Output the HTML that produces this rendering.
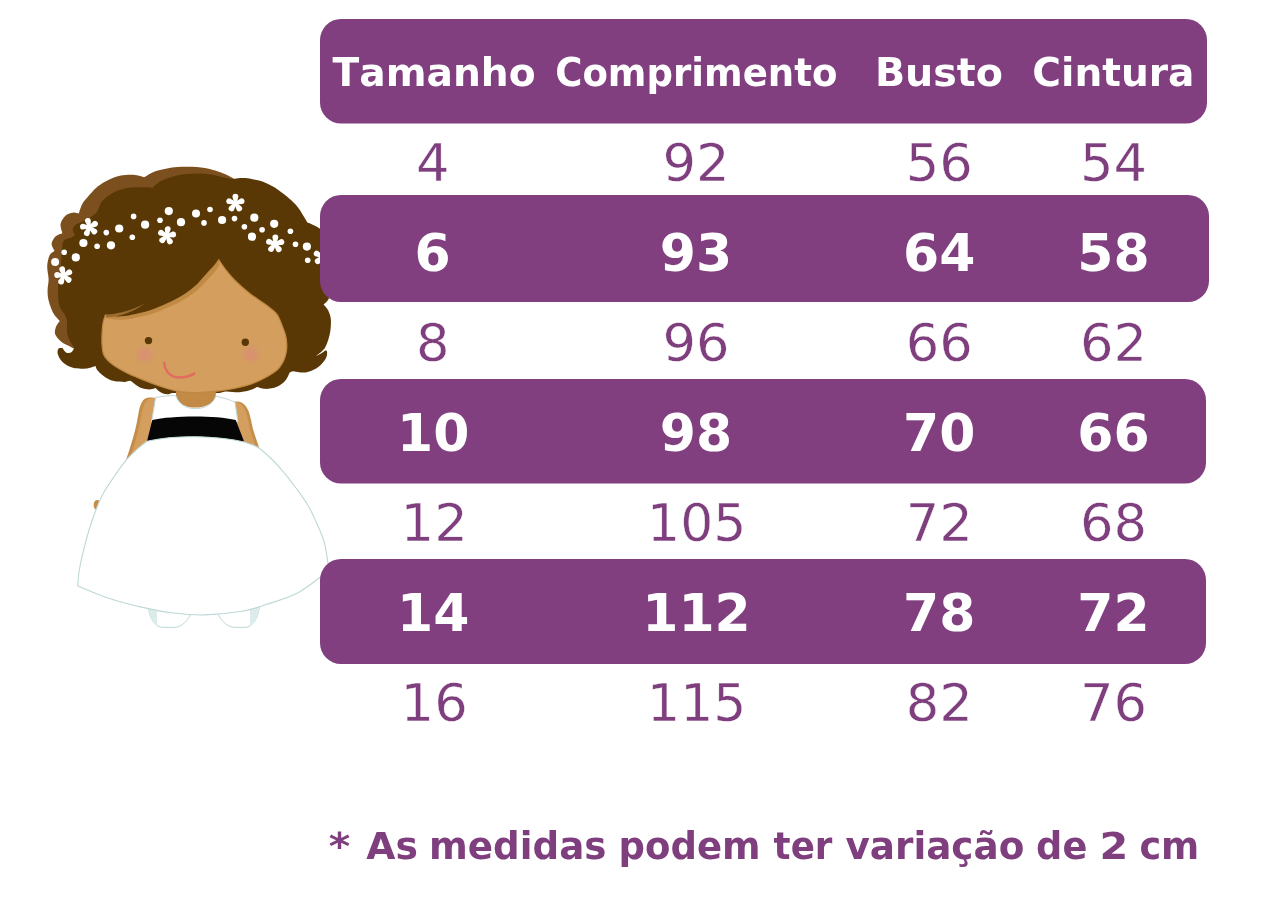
<!DOCTYPE html>
<html lang="pt-BR">
<head>
<meta charset="utf-8">
<title>Tabela de medidas</title>
<style>
html,body{margin:0;padding:0;background:#fff;}
body{width:1285px;height:908px;overflow:hidden;}
svg{display:block;}
text{font-family:"DejaVu Sans","Liberation Sans",sans-serif;font-kerning:none;}
.h{font-weight:bold;fill:#fff;font-size:39.3px;}
.b{font-weight:bold;fill:#fff;font-size:52px;text-anchor:middle;}
.r{fill:#7f3f7e;font-size:51px;text-anchor:middle;stroke:#fff;stroke-width:0.4px;}
.n{fill:#7f3f7e;font-weight:bold;font-size:36.5px;}
</style>
</head>
<body>
<svg width="1285" height="908" viewBox="0 0 1285 908">
<g id="girl">
<defs><radialGradient id="ck"><stop offset="0" stop-color="#df8583" stop-opacity="0.6"/><stop offset="0.55" stop-color="#df8583" stop-opacity="0.36"/><stop offset="1" stop-color="#df8583" stop-opacity="0"/></radialGradient></defs>
<path d="M80 352 C78.3 351.1 73.2 348.2 70.0 346.5 C66.8 344.8 63.5 343.6 61.0 341.5 C58.5 339.4 56.1 336.6 55.2 334.2 C54.4 331.8 55.1 329.2 55.9 327.0 C56.7 324.8 59.1 322.0 59.8 321.0 C58.7 319.7 55.1 316.5 53.2 313.0 C51.3 309.5 49.4 303.8 48.5 300.0 C47.6 296.2 47.6 293.5 47.6 290.0 C47.6 286.5 48.7 283.0 48.6 279.0 C48.5 275.0 47.0 270.0 47.2 266.0 C47.4 262.0 48.5 257.5 49.7 255.0 C50.9 252.5 53.7 251.6 54.5 250.9 C54.0 249.7 51.4 246.0 51.6 243.6 C51.8 241.2 53.9 238.0 55.7 236.3 C57.5 234.6 61.3 233.8 62.4 233.3 C62.1 231.8 60.1 226.9 60.6 224.0 C61.1 221.1 63.4 217.6 65.4 215.7 C67.4 213.8 70.5 213.0 72.7 212.7 C74.9 212.3 77.8 213.4 78.8 213.6 C79.4 211.9 80.9 206.5 82.5 203.6 C84.1 200.7 86.2 198.6 88.5 196.0 C90.8 193.4 93.4 190.3 96.0 188.0 C98.6 185.7 101.2 184.0 104.0 182.3 C106.8 180.6 109.8 179.1 112.6 178.0 C115.4 176.9 118.3 176.1 121.0 175.6 C123.7 175.1 126.3 174.9 129.0 174.8 C131.7 174.8 134.5 174.9 137.0 175.3 C139.5 175.7 142.8 177.0 144.0 177.3 C145.1 176.7 148.2 174.5 150.5 173.4 C152.8 172.3 155.1 171.4 157.8 170.6 C160.6 169.8 163.8 169.0 167.0 168.4 C170.2 167.8 174.0 167.4 177.3 167.1 C180.6 166.8 183.8 166.7 187.0 166.7 C190.2 166.7 193.7 166.9 196.7 167.1 C199.7 167.3 202.4 167.6 205.0 168.1 C207.6 168.6 209.9 169.2 212.3 169.8 C214.7 170.5 217.2 171.2 219.5 172.0 C221.8 172.8 223.6 173.5 226.0 174.6 C228.4 175.7 232.4 177.9 233.7 178.6 L228 300 Z" fill="#7c501e"/>
<path d="M74.3 347.4 C73.7 346.5 71.6 344.4 70.4 342.0 C69.2 339.6 67.8 336.8 67.1 332.8 C66.4 328.9 67.7 322.7 66.4 318.3 C65.1 313.9 60.9 310.6 59.5 306.4 C58.1 302.2 58.2 296.8 58.0 293.2 C57.8 289.6 57.9 287.4 58.2 285.0 C58.5 282.6 59.2 282.0 59.6 278.7 C60.0 275.4 60.5 269.4 60.8 265.4 C61.1 261.4 61.4 257.7 61.6 254.5 C61.9 251.3 61.9 248.4 62.3 246.0 C62.7 243.6 62.7 241.4 64.2 240.0 C65.7 238.6 69.7 238.3 71.5 237.5 C73.3 236.7 74.5 235.5 75.1 235.1 C74.7 234.1 72.5 230.8 72.7 229.0 C72.9 227.2 74.7 225.4 76.3 224.2 C77.9 223.0 80.1 222.9 82.4 221.8 C84.7 220.7 87.6 219.1 90.0 217.5 C92.4 215.9 95.1 214.4 96.9 212.1 C98.7 209.8 99.2 205.9 100.6 203.6 C102.0 201.2 102.8 200.1 105.4 198.0 C108.0 195.9 112.1 193.0 116.0 191.3 C119.9 189.6 124.1 188.4 129.0 187.7 C133.9 187.0 141.7 187.2 145.6 187.2 C149.5 187.2 151.2 187.8 152.3 187.9 C153.4 187.0 156.5 183.9 159.0 182.3 C161.5 180.7 164.5 179.4 167.5 178.3 C170.5 177.2 173.8 176.3 177.0 175.6 C180.2 174.9 183.7 174.4 187.0 174.1 C190.3 173.8 193.8 173.6 197.0 173.6 C200.2 173.6 203.7 173.7 206.5 173.9 C209.3 174.1 211.8 174.6 214.0 175.0 C216.2 175.4 218.0 175.9 220.0 176.4 C222.0 176.9 224.0 177.3 226.0 177.8 C228.0 178.3 230.8 179.1 231.8 179.3 C232.8 179.1 235.7 178.4 238.0 178.2 C240.3 178.0 242.7 177.9 245.4 178.1 C248.1 178.3 250.8 178.8 254.0 179.6 C257.2 180.3 260.6 180.8 264.8 182.6 C269.0 184.4 273.9 186.8 279.0 190.5 C284.1 194.2 291.2 199.7 295.6 204.5 C300.0 209.3 303.7 216.5 305.6 219.4 C307.5 222.3 306.8 221.7 307.0 222.2 C308.4 222.8 313.0 224.6 315.5 226.0 C318.0 227.4 319.9 228.2 322.0 230.5 C324.1 232.8 326.5 235.9 328.0 240.0 C329.5 244.1 330.3 249.2 331.0 255.0 C331.7 260.8 332.0 268.8 332.0 275.0 C332.0 281.2 331.7 287.8 331.0 292.0 C330.3 296.2 329.2 297.9 328.0 300.0 C326.8 302.1 324.3 303.8 323.6 304.5 C324.3 305.4 326.9 307.9 328.0 310.0 C329.1 312.1 330.0 314.7 330.5 317.0 C331.0 319.3 331.0 321.2 330.9 323.9 C330.8 326.6 330.6 330.0 330.0 333.0 C329.4 336.0 328.4 339.5 327.5 342.0 C326.6 344.5 325.2 347.2 324.8 348.2 C324.1 348.9 322.0 351.3 320.5 352.6 C319.0 353.9 316.6 355.6 315.8 356.2 C316.7 355.8 319.4 354.6 321.0 353.6 C322.6 352.6 324.7 350.8 325.4 350.2 C325.6 350.4 326.6 350.6 326.9 351.2 C327.2 351.8 327.2 352.9 327.1 354.0 C327.0 355.1 326.8 356.4 326.0 357.9 C325.2 359.4 323.9 361.4 322.5 363.0 C321.1 364.6 319.4 366.3 317.6 367.6 C315.8 368.9 313.5 370.0 311.5 370.8 C309.5 371.6 307.6 372.1 305.5 372.4 C303.4 372.6 301.0 372.5 299.0 372.3 C297.0 372.1 294.9 371.2 293.3 371.2 C291.8 371.2 290.3 372.2 289.7 372.4 C289.1 373.6 287.4 377.8 286.0 379.7 C284.6 381.6 283.1 382.8 281.5 384.0 C279.9 385.2 278.3 386.2 276.4 387.0 C274.5 387.8 272.0 388.3 270.0 388.6 C268.0 388.9 266.4 389.1 264.2 388.8 C262.0 388.5 258.2 387.3 257.0 387.0 C256.2 387.4 254.2 388.6 252.0 389.4 C249.8 390.1 246.4 391.0 244.0 391.5 C241.6 392.0 240.8 392.3 237.8 392.3 C234.9 392.3 229.3 391.4 226.3 391.5 C223.3 391.6 220.7 392.8 219.6 393.0 C211.7 393.0 179.9 393.0 172.0 393.0 C171.2 393.2 168.9 394.4 167.0 394.3 C165.1 394.2 162.4 393.4 160.5 392.3 C158.6 391.2 156.3 388.7 155.5 388.0 C154.8 388.2 152.7 389.1 151.0 389.3 C149.3 389.5 147.4 389.3 145.6 389.0 C143.8 388.7 142.0 388.6 140.0 387.6 C138.0 386.6 134.6 383.8 133.5 383.0 C132.9 382.6 131.3 381.0 129.8 380.8 C128.3 380.6 127.1 381.9 124.5 381.9 C121.9 381.9 117.1 381.7 114.0 381.0 C110.9 380.3 108.7 379.4 106.0 377.8 C103.3 376.2 99.8 373.1 98.1 371.1 C96.3 369.1 95.9 366.8 95.5 365.9 C94.0 366.3 90.0 368.2 86.2 368.5 C82.5 368.8 77.0 368.9 73.0 367.8 C69.0 366.7 65.0 364.2 62.5 361.9 C60.0 359.6 58.4 356.2 57.8 354.0 C57.1 351.8 57.8 349.6 58.6 348.6 C59.4 347.6 61.9 348.1 62.5 348.0 C63.1 348.8 64.9 352.0 66.4 352.7 C67.9 353.4 70.4 352.9 71.7 352.0 C73.0 351.1 73.9 348.2 74.3 347.4 Z" fill="#593806"/>
<path d="M156.0 398.0 C155.0 397.9 151.8 397.5 150.0 397.6 C148.2 397.7 146.8 397.9 145.5 398.6 C144.2 399.3 143.0 400.4 142.0 402.0 C141.0 403.6 140.3 405.7 139.6 408.0 C138.9 410.3 138.6 413.2 138.0 416.0 C137.4 418.8 137.1 421.7 136.3 425.0 C135.6 428.3 134.6 432.1 133.5 436.0 C132.4 439.9 131.1 444.4 129.8 448.5 C128.5 452.6 127.0 457.3 125.9 460.4 C124.8 463.5 123.5 465.9 123.0 467.0 C127.5 467.5 143.8 477.8 150.0 470.0 C156.2 462.2 159.0 432.0 160.0 420.0 C161.0 408.0 156.7 401.7 156.0 398.0 Z" fill="#c58d48"/>
<path d="M156.0 398.0 C155.2 398.0 152.8 397.9 151.5 398.2 C150.2 398.5 149.1 398.8 148.0 399.6 C146.9 400.4 145.9 401.4 145.0 403.0 C144.1 404.6 143.3 406.7 142.6 409.0 C141.9 411.3 141.6 414.2 141.0 417.0 C140.4 419.8 140.1 422.7 139.3 426.0 C138.6 429.3 137.6 433.1 136.5 437.0 C135.4 440.9 134.1 445.4 132.8 449.5 C131.5 453.6 130.0 458.3 128.9 461.4 C127.8 464.5 126.5 466.9 126.0 468.0 C130.0 468.3 144.3 478.0 150.0 470.0 C155.7 462.0 159.0 432.0 160.0 420.0 C161.0 408.0 156.7 401.7 156.0 398.0 Z" fill="#d39e5e"/>
<path d="M234.0 402.0 C234.7 401.9 236.6 401.3 238.0 401.5 C239.4 401.7 241.0 402.2 242.3 403.0 C243.6 403.8 244.9 405.0 246.0 406.5 C247.1 408.0 248.1 409.8 248.9 412.0 C249.7 414.2 250.3 417.2 251.0 420.0 C251.7 422.8 252.1 425.6 252.9 428.7 C253.7 431.8 254.9 435.2 256.0 438.5 C257.1 441.8 258.3 445.4 259.5 448.5 C260.7 451.6 262.4 455.6 263.0 457.0 C258.5 459.2 241.5 476.2 236.0 470.0 C230.5 463.8 230.3 431.3 230.0 420.0 C229.7 408.7 233.3 405.0 234.0 402.0 Z" fill="#c58d48"/>
<path d="M234.0 402.0 C234.5 402.0 235.9 401.7 237.0 402.0 C238.1 402.3 239.2 402.8 240.3 403.6 C241.4 404.4 242.6 405.5 243.5 407.0 C244.4 408.5 245.2 410.2 246.0 412.5 C246.8 414.8 247.5 417.7 248.2 420.5 C248.9 423.3 249.3 426.1 250.1 429.2 C250.9 432.3 252.1 435.7 253.2 439.0 C254.3 442.3 255.6 445.9 256.7 449.0 C257.8 452.1 259.4 456.1 260.0 457.5 C256.0 459.6 241.0 476.2 236.0 470.0 C231.0 463.8 230.3 431.3 230.0 420.0 C229.7 408.7 233.3 405.0 234.0 402.0 Z" fill="#d39e5e"/>
<ellipse cx="97.2" cy="505" rx="3.6" ry="5" fill="#c58d48"/>
<path d="M148.7 609 C149.5 618 155 627.4 163 627.4 L174 627.4 C182 627.4 188.5 620 191.5 612 Z" fill="#fff" stroke="#bdd8d6" stroke-width="1"/>
<path d="M148.7 609 C149.5 617 152.5 623 157 626 L157 611 Z" fill="#dcecea"/>
<path d="M217 612 C220.5 620 227 627.4 235 627.4 L244 627.4 C253 627.4 258.5 618 259.5 606 Z" fill="#fff" stroke="#bdd8d6" stroke-width="1"/>
<path d="M259.5 606 C258.8 616 255.5 622.5 250 626 L250 609 Z" fill="#dcecea"/>
<path d="M176 385 L176 397 C178.5 404 186 407.6 195 407.6 C205 407.6 213 404 215.8 396.2 L215.8 385 Z" fill="#c28a45"/>
<path d="M155.6 397.6 C162 396.2 169 395.4 176 395.8 C178.5 404 186 408.6 195.3 408.6 C205 408.6 213 404.4 215.8 396.2 C223 397.6 229.5 399.6 235 402.2 L238 422 L151.5 422 Z" fill="#ffffff" stroke="#bdd8d6" stroke-width="1"/>
<path d="M152.3 420 C172 415.6 215 415.2 235.7 420 L244.3 442 C215 435.2 175 435.2 147 441.2 Z" fill="#060606"/>
<path d="M147 441.2 C145.2 442.6 140.0 446.6 136.5 449.8 C133.0 453.0 129.4 456.2 125.9 460.4 C122.4 464.6 119.0 469.6 115.3 475.0 C111.6 480.4 106.7 487.3 103.5 493.0 C100.3 498.7 98.7 502.8 96.3 509.0 C93.9 515.2 91.3 522.3 89.0 530.0 C86.7 537.7 84.1 548.0 82.4 555.0 C80.7 562.0 79.8 566.8 79.0 572.0 C78.2 577.2 78.0 583.7 77.8 586.0 C82.8 588.0 97.2 594.4 108.0 598.0 C118.8 601.6 131.6 604.9 142.5 607.4 C153.4 609.9 163.2 611.8 173.6 613.0 C184.0 614.2 193.3 615.2 204.7 614.9 C216.1 614.6 231.8 612.9 242.0 611.2 C252.2 609.5 256.6 607.7 265.9 604.6 C275.2 601.5 287.5 598.5 298.0 592.8 C308.5 587.1 323.8 574.2 329.0 570.5 C328.2 565.9 326.5 550.6 324.4 542.7 C322.3 534.8 319.3 529.2 316.6 523.0 C313.9 516.8 311.6 511.5 308.2 505.7 C304.8 499.9 300.1 493.6 296.0 488.0 C291.9 482.4 287.5 476.6 283.4 471.8 C279.3 467.0 275.5 462.9 271.5 459.0 C267.5 455.1 262.8 450.9 259.5 448.5 C256.2 446.1 254.5 445.9 252.0 444.8 C249.5 443.7 245.6 442.5 244.3 442.0 C215 435.2 175 435.2 147 441.2 Z" fill="#ffffff" stroke="#bdd8d6" stroke-width="1.1"/>
<path d="M105.4 315.0 C105.0 316.3 103.5 320.0 103.0 323.0 C102.5 326.0 102.3 329.3 102.1 332.8 C101.9 336.3 101.8 340.5 102.0 344.0 C102.2 347.5 102.5 351.3 103.4 354.0 C104.3 356.7 105.7 358.1 107.5 360.0 C109.3 361.9 110.9 363.4 114.0 365.5 C117.1 367.6 121.7 370.3 126.0 372.5 C130.3 374.7 134.0 376.2 140.0 378.6 C146.0 381.0 155.8 384.9 162.2 387.0 C168.6 389.1 173.0 390.4 178.7 391.3 C184.4 392.2 189.4 392.7 196.5 392.6 C203.6 392.5 213.1 391.9 221.3 390.7 C229.6 389.5 239.1 387.6 246.0 385.7 C252.9 383.8 258.1 381.1 262.6 379.0 C267.1 376.9 270.3 374.8 273.0 373.0 C275.7 371.2 277.2 370.2 279.0 368.0 C280.8 365.8 282.8 362.7 284.0 360.0 C285.2 357.3 285.8 354.7 286.3 352.0 C286.8 349.3 286.9 346.8 286.8 344.0 C286.7 341.2 286.2 337.9 285.5 335.0 C284.8 332.1 283.4 329.0 282.4 326.3 C281.4 323.6 280.6 321.2 279.5 319.0 C278.4 316.8 278.1 315.4 275.8 313.0 C273.5 310.6 270.3 308.1 265.9 304.8 C261.5 301.5 254.6 297.3 249.4 293.2 C244.2 289.1 238.4 283.9 234.5 280.0 C230.6 276.1 228.6 273.4 226.0 270.0 C223.4 266.6 220.0 261.6 218.8 259.9 C217.9 261.1 215.5 264.7 213.5 267.0 C211.5 269.3 209.9 270.7 207.0 273.8 C204.1 276.9 199.7 282.5 196.2 285.8 C192.7 289.1 189.9 291.2 186.0 293.8 C182.1 296.4 178.2 298.8 172.8 301.4 C167.5 304.0 159.1 307.6 153.9 309.6 C148.7 311.6 145.8 312.1 141.7 313.2 C137.5 314.3 133.1 315.4 129.0 316.0 C124.9 316.6 120.9 317.2 117.0 317.0 C113.1 316.8 107.3 315.3 105.4 315.0 Z" fill="#d39e5e" stroke="#bf8840" stroke-width="1.2"/>
<path d="M105.4 315 C107.3 315.3 113.1 316.8 117.0 317.0 C120.9 317.2 124.9 316.6 129.0 316.0 C133.1 315.4 137.5 314.3 141.7 313.2 C145.8 312.1 148.7 311.6 153.9 309.6 C159.1 307.6 167.5 304.0 172.8 301.4 C178.2 298.8 182.1 296.4 186.0 293.8 C189.9 291.2 192.7 289.1 196.2 285.8 C199.7 282.5 204.1 276.9 207.0 273.8 C209.9 270.7 211.5 269.3 213.5 267.0 C215.5 264.7 217.9 261.1 218.8 259.9 L219.6 264.5 C218.9 265.6 217.2 268.8 215.5 271.0 C213.8 273.2 212.3 274.5 209.5 277.5 C206.7 280.5 202.1 285.8 198.5 289.0 C194.9 292.2 192.0 294.4 188.0 297.0 C184.0 299.6 180.0 302.0 174.5 304.6 C169.0 307.2 160.3 310.9 155.0 312.8 C149.7 314.8 146.8 315.3 142.5 316.3 C138.2 317.3 133.6 318.4 129.3 319.0 C125.1 319.6 121.0 319.8 117.0 319.6 C113.0 319.4 107.0 318.3 105.0 318.0 Z" fill="#c08a44"/>
<path d="M106 314.6 C121 313.6 133 309.4 144.5 303.4 C134 311.4 121 317 106 317.4 Z" fill="#9a6c30"/>
<circle cx="148.5" cy="340.6" r="3.7" fill="#593806"/>
<circle cx="245.3" cy="342.3" r="3.7" fill="#593806"/>
<circle cx="144.8" cy="354.5" r="10" fill="url(#ck)"/>
<circle cx="251" cy="354.5" r="10" fill="url(#ck)"/>
<path d="M164.2 362.6 C165 372 171 377.4 179.5 377.4 C185.5 377.4 190.5 375.9 194.3 373.6" fill="none" stroke="#e36b60" stroke-width="2.4" stroke-linecap="round"/>
<circle cx="168.8" cy="211.1" r="4.1" fill="#fff"/>
<circle cx="196.0" cy="213.5" r="4.0" fill="#fff"/>
<circle cx="133.6" cy="216.4" r="2.8" fill="#fff"/>
<circle cx="160.0" cy="220.2" r="2.8" fill="#fff"/>
<circle cx="181.0" cy="222.2" r="4.1" fill="#fff"/>
<circle cx="145.1" cy="224.7" r="4.1" fill="#fff"/>
<circle cx="119.2" cy="228.5" r="4.1" fill="#fff"/>
<circle cx="106.3" cy="232.6" r="2.8" fill="#fff"/>
<circle cx="132.3" cy="237.2" r="2.8" fill="#fff"/>
<circle cx="83.4" cy="243.0" r="4.1" fill="#fff"/>
<circle cx="111.0" cy="245.3" r="4.1" fill="#fff"/>
<circle cx="97.1" cy="246.3" r="2.8" fill="#fff"/>
<circle cx="64.2" cy="252.3" r="2.8" fill="#fff"/>
<circle cx="75.8" cy="257.4" r="4.1" fill="#fff"/>
<circle cx="55.1" cy="262.0" r="4.0" fill="#fff"/>
<circle cx="210.0" cy="209.5" r="2.8" fill="#fff"/>
<circle cx="204.0" cy="222.9" r="2.8" fill="#fff"/>
<circle cx="222.1" cy="220.0" r="4.1" fill="#fff"/>
<circle cx="234.5" cy="218.6" r="2.8" fill="#fff"/>
<circle cx="254.3" cy="217.7" r="4.1" fill="#fff"/>
<circle cx="244.4" cy="226.8" r="2.8" fill="#fff"/>
<circle cx="262.1" cy="229.8" r="2.8" fill="#fff"/>
<circle cx="274.2" cy="223.8" r="4.1" fill="#fff"/>
<circle cx="252.0" cy="236.7" r="4.1" fill="#fff"/>
<circle cx="290.4" cy="231.3" r="2.8" fill="#fff"/>
<circle cx="295.5" cy="244.2" r="2.8" fill="#fff"/>
<circle cx="306.9" cy="246.6" r="4.1" fill="#fff"/>
<circle cx="307.7" cy="260.2" r="2.8" fill="#fff"/>
<g transform="translate(89.4 227.2) rotate(-13)" fill="#fff"><path transform="rotate(0)" d="M-1.2 0.4 L-2.95 -6.45 A2.95 2.95 0 0 1 2.95 -6.45 L1.2 0.4 Z"/><path transform="rotate(72)" d="M-1.2 0.4 L-2.95 -6.45 A2.95 2.95 0 0 1 2.95 -6.45 L1.2 0.4 Z"/><path transform="rotate(144)" d="M-1.2 0.4 L-2.95 -6.45 A2.95 2.95 0 0 1 2.95 -6.45 L1.2 0.4 Z"/><path transform="rotate(216)" d="M-1.2 0.4 L-2.95 -6.45 A2.95 2.95 0 0 1 2.95 -6.45 L1.2 0.4 Z"/><path transform="rotate(288)" d="M-1.2 0.4 L-2.95 -6.45 A2.95 2.95 0 0 1 2.95 -6.45 L1.2 0.4 Z"/><circle r="1.8"/></g>
<g transform="translate(166.8 235.6) rotate(8)" fill="#fff"><path transform="rotate(0)" d="M-1.2 0.4 L-2.95 -6.45 A2.95 2.95 0 0 1 2.95 -6.45 L1.2 0.4 Z"/><path transform="rotate(72)" d="M-1.2 0.4 L-2.95 -6.45 A2.95 2.95 0 0 1 2.95 -6.45 L1.2 0.4 Z"/><path transform="rotate(144)" d="M-1.2 0.4 L-2.95 -6.45 A2.95 2.95 0 0 1 2.95 -6.45 L1.2 0.4 Z"/><path transform="rotate(216)" d="M-1.2 0.4 L-2.95 -6.45 A2.95 2.95 0 0 1 2.95 -6.45 L1.2 0.4 Z"/><path transform="rotate(288)" d="M-1.2 0.4 L-2.95 -6.45 A2.95 2.95 0 0 1 2.95 -6.45 L1.2 0.4 Z"/><circle r="1.8"/></g>
<g transform="translate(63.7 275.6) rotate(-13)" fill="#fff"><path transform="rotate(0)" d="M-1.2 0.4 L-2.95 -6.45 A2.95 2.95 0 0 1 2.95 -6.45 L1.2 0.4 Z"/><path transform="rotate(72)" d="M-1.2 0.4 L-2.95 -6.45 A2.95 2.95 0 0 1 2.95 -6.45 L1.2 0.4 Z"/><path transform="rotate(144)" d="M-1.2 0.4 L-2.95 -6.45 A2.95 2.95 0 0 1 2.95 -6.45 L1.2 0.4 Z"/><path transform="rotate(216)" d="M-1.2 0.4 L-2.95 -6.45 A2.95 2.95 0 0 1 2.95 -6.45 L1.2 0.4 Z"/><path transform="rotate(288)" d="M-1.2 0.4 L-2.95 -6.45 A2.95 2.95 0 0 1 2.95 -6.45 L1.2 0.4 Z"/><circle r="1.8"/></g>
<g transform="translate(235.4 203.2) rotate(0)" fill="#fff"><path transform="rotate(0)" d="M-1.2 0.4 L-2.95 -6.45 A2.95 2.95 0 0 1 2.95 -6.45 L1.2 0.4 Z"/><path transform="rotate(72)" d="M-1.2 0.4 L-2.95 -6.45 A2.95 2.95 0 0 1 2.95 -6.45 L1.2 0.4 Z"/><path transform="rotate(144)" d="M-1.2 0.4 L-2.95 -6.45 A2.95 2.95 0 0 1 2.95 -6.45 L1.2 0.4 Z"/><path transform="rotate(216)" d="M-1.2 0.4 L-2.95 -6.45 A2.95 2.95 0 0 1 2.95 -6.45 L1.2 0.4 Z"/><path transform="rotate(288)" d="M-1.2 0.4 L-2.95 -6.45 A2.95 2.95 0 0 1 2.95 -6.45 L1.2 0.4 Z"/><circle r="1.8"/></g>
<g transform="translate(275.1 243.9) rotate(2)" fill="#fff"><path transform="rotate(0)" d="M-1.2 0.4 L-2.95 -6.45 A2.95 2.95 0 0 1 2.95 -6.45 L1.2 0.4 Z"/><path transform="rotate(72)" d="M-1.2 0.4 L-2.95 -6.45 A2.95 2.95 0 0 1 2.95 -6.45 L1.2 0.4 Z"/><path transform="rotate(144)" d="M-1.2 0.4 L-2.95 -6.45 A2.95 2.95 0 0 1 2.95 -6.45 L1.2 0.4 Z"/><path transform="rotate(216)" d="M-1.2 0.4 L-2.95 -6.45 A2.95 2.95 0 0 1 2.95 -6.45 L1.2 0.4 Z"/><path transform="rotate(288)" d="M-1.2 0.4 L-2.95 -6.45 A2.95 2.95 0 0 1 2.95 -6.45 L1.2 0.4 Z"/><circle r="1.8"/></g>
<g transform="translate(322.4 256.7) rotate(10)" fill="#fff"><path transform="rotate(0)" d="M-1.2 0.4 L-2.95 -6.45 A2.95 2.95 0 0 1 2.95 -6.45 L1.2 0.4 Z"/><path transform="rotate(72)" d="M-1.2 0.4 L-2.95 -6.45 A2.95 2.95 0 0 1 2.95 -6.45 L1.2 0.4 Z"/><path transform="rotate(144)" d="M-1.2 0.4 L-2.95 -6.45 A2.95 2.95 0 0 1 2.95 -6.45 L1.2 0.4 Z"/><path transform="rotate(216)" d="M-1.2 0.4 L-2.95 -6.45 A2.95 2.95 0 0 1 2.95 -6.45 L1.2 0.4 Z"/><path transform="rotate(288)" d="M-1.2 0.4 L-2.95 -6.45 A2.95 2.95 0 0 1 2.95 -6.45 L1.2 0.4 Z"/><circle r="1.8"/></g>
</g>
<g fill="#813f80">
<rect x="320" y="19" width="887" height="104.5" rx="21" ry="21"/>
<rect x="320" y="195" width="889" height="107" rx="21" ry="21"/>
<rect x="320" y="379" width="886" height="104.5" rx="21" ry="21"/>
<rect x="320" y="559" width="886" height="105" rx="21" ry="21"/>
</g>
<text class="h" x="332.5" y="86.2" textLength="203.2" lengthAdjust="spacingAndGlyphs">Tamanho</text>
<text class="h" x="555.2" y="86.2" textLength="282.2" lengthAdjust="spacingAndGlyphs">Comprimento</text>
<text class="h" x="874.9" y="86.2" textLength="128.1" lengthAdjust="spacingAndGlyphs">Busto</text>
<text class="h" x="1032.3" y="86.2" textLength="162.2" lengthAdjust="spacingAndGlyphs">Cintura</text>
<text class="r" transform="translate(432.7 181.3) scale(1.035 1)">4</text>
<text class="r" transform="translate(696.0 181.3) scale(1.035 1)">92</text>
<text class="r" transform="translate(939.3 181.3) scale(1.035 1)">56</text>
<text class="r" transform="translate(1113.5 181.3) scale(1.035 1)">54</text>
<text class="b" transform="translate(432.7 271.0) scale(1.000 1)">6</text>
<text class="b" transform="translate(696.0 271.0) scale(1.000 1)">93</text>
<text class="b" transform="translate(939.3 271.0) scale(1.000 1)">64</text>
<text class="b" transform="translate(1113.5 271.0) scale(1.000 1)">58</text>
<text class="r" transform="translate(432.7 361.3) scale(1.035 1)">8</text>
<text class="r" transform="translate(696.0 361.3) scale(1.035 1)">96</text>
<text class="r" transform="translate(939.3 361.3) scale(1.035 1)">66</text>
<text class="r" transform="translate(1113.5 361.3) scale(1.035 1)">62</text>
<text class="b" transform="translate(433.2 451.0) scale(1.000 1)">10</text>
<text class="b" transform="translate(696.0 451.0) scale(1.000 1)">98</text>
<text class="b" transform="translate(939.3 451.0) scale(1.000 1)">70</text>
<text class="b" transform="translate(1113.5 451.0) scale(1.000 1)">66</text>
<text class="r" transform="translate(434.2 541.3) scale(1.035 1)">12</text>
<text class="r" transform="translate(696.7 541.3) scale(1.020 1)">105</text>
<text class="r" transform="translate(939.3 541.3) scale(1.035 1)">72</text>
<text class="r" transform="translate(1113.5 541.3) scale(1.035 1)">68</text>
<text class="b" transform="translate(433.2 631.0) scale(1.000 1)">14</text>
<text class="b" transform="translate(696.5 631.0) scale(1.000 1)">112</text>
<text class="b" transform="translate(939.3 631.0) scale(1.000 1)">78</text>
<text class="b" transform="translate(1113.5 631.0) scale(1.000 1)">72</text>
<text class="r" transform="translate(434.2 721.3) scale(1.035 1)">16</text>
<text class="r" transform="translate(696.7 721.3) scale(1.020 1)">115</text>
<text class="r" transform="translate(939.3 721.3) scale(1.035 1)">82</text>
<text class="r" transform="translate(1113.5 721.3) scale(1.035 1)">76</text>
<text class="n" y="858.5"><tspan x="328.8" textLength="21.5" lengthAdjust="spacingAndGlyphs">*</tspan> <tspan x="366.3" textLength="51.7" lengthAdjust="spacingAndGlyphs">As</tspan> <tspan x="429.0" textLength="177.5" lengthAdjust="spacingAndGlyphs">medidas</tspan> <tspan x="618.6" textLength="142.0" lengthAdjust="spacingAndGlyphs">podem</tspan> <tspan x="773.6" textLength="58.8" lengthAdjust="spacingAndGlyphs">ter</tspan> <tspan x="845.5" textLength="178.8" lengthAdjust="spacingAndGlyphs">variação</tspan> <tspan x="1036.1" textLength="51.2" lengthAdjust="spacingAndGlyphs">de</tspan> <tspan x="1099.4" textLength="28.8" lengthAdjust="spacingAndGlyphs">2</tspan> <tspan x="1139.4" textLength="59.9" lengthAdjust="spacingAndGlyphs">cm</tspan></text>
</svg>
</body>
</html>
